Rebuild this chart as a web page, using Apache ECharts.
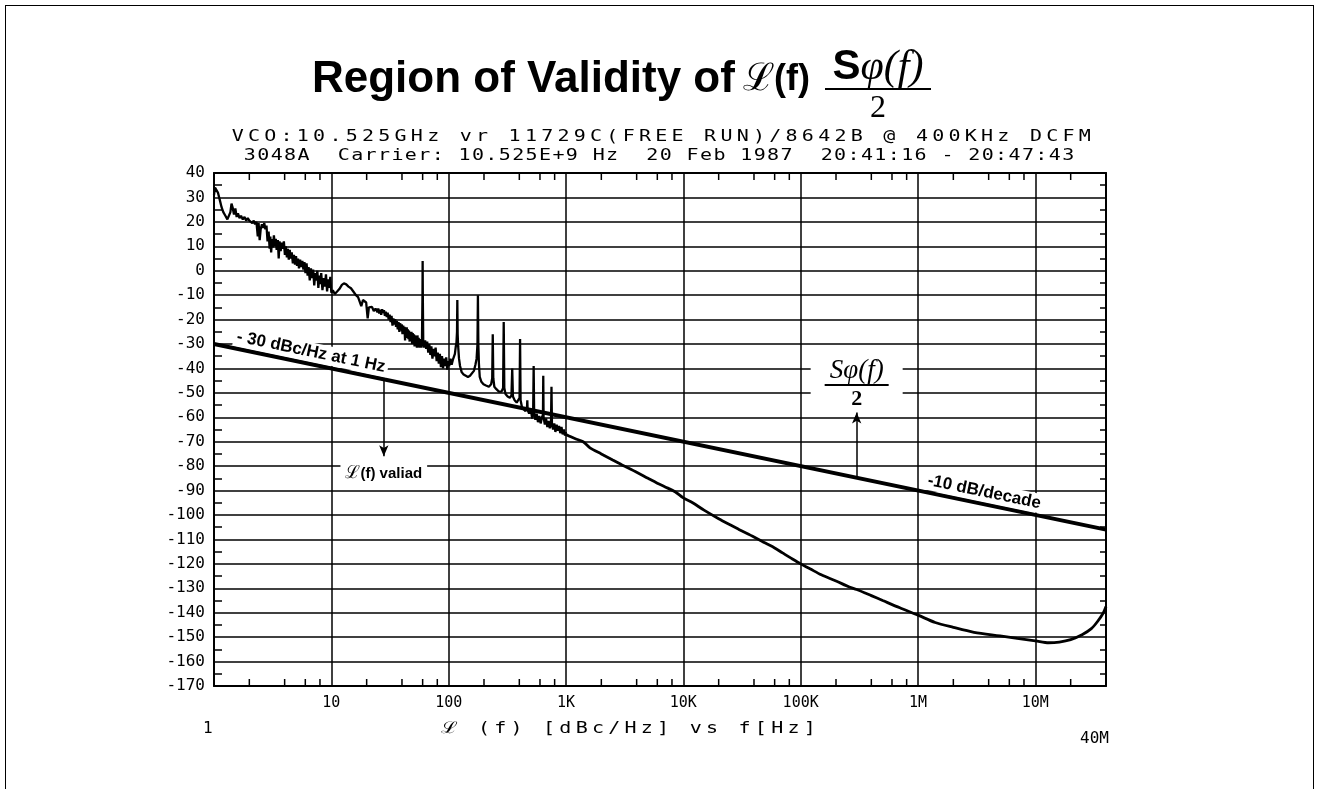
<!DOCTYPE html>
<html>
<head>
<meta charset="utf-8">
<title>Region of Validity</title>
<script src="https://cdn.jsdelivr.net/npm/echarts@6.0.0/dist/echarts.min.js"></script>
<style>
  html, body { margin: 0; padding: 0; background: #fff; }
  body { width: 1319px; height: 789px; position: relative; overflow: hidden; }
  #frame { position: absolute; left: 5px; top: 5px; width: 1307px; height: 800px; border: 1.5px solid #000; }
  #chart { position: absolute; left: 0; top: 0; width: 1319px; height: 789px; }
  .head { position: absolute; color: #000; white-space: pre; line-height: 1; }
  .bold { font-family: 'Liberation Sans', Arial, sans-serif; font-weight: bold; }
  .row { position: absolute; left: 0; width: 1326px; text-align: center; line-height: 1; }
  .plotter { display: inline-block; font-family: 'DejaVu Sans Mono', monospace; font-size: 16px; color: #000;
             white-space: pre; letter-spacing: 3.4px; transform: scaleX(1.25); transform-origin: center; }
  .tick { position: absolute; font-family: 'DejaVu Sans Mono', monospace; font-size: 16px; color: #000; line-height: 1; }
</style>
</head>
<body>
<div id="frame"></div>
<div id="chart"></div>

<div class="head bold" style="left:312px; top:55px; font-size:44px;">Region of Validity of</div>
<div class="head" style="left:743px; top:58px; font-size:38px; font-family:'DejaVu Serif', serif;">ℒ</div>
<div class="head bold" style="left:774px; top:60px; font-size:36px;">(f)</div>
<div class="head" style="left:812px; top:44px; width:132px; text-align:center; font-size:42px;"><span class="bold">S</span><span style="font-family:'Liberation Serif', serif; font-style:italic;">φ(f)</span></div>
<div class="head" style="left:825px; top:88px; width:106px; border-top:2.5px solid #000;"></div>
<div class="head" style="left:812px; top:90px; width:132px; text-align:center; font-size:32px; font-family:'Liberation Serif', serif;">2</div>

<div class="row" style="top:128px;"><span class="plotter">VCO:10.525GHz vr 11729C(FREE RUN)/8642B @ 400KHz DCFM</span></div>
<div class="row" style="top:147px; width:1320px;"><span class="plotter" style="letter-spacing:1.1px;">3048A  Carrier: 10.525E+9 Hz  20 Feb 1987  20:41:16 - 20:47:43</span></div>

<div class="tick" style="left:203px; top:720px;">1</div>
<div class="row" style="top:720px; width:1262px;"><span class="plotter">ℒ (f) [dBc/Hz] vs f[Hz]</span></div>
<div class="tick" style="left:1080px; top:730px;">40M</div>

<script>
// axis ranges
const xMin = 1
const xMax = 4e7
const yMin = -170
const yMax = 40
const yStep = 10

// decade labels on the frequency axis (10 Hz .. 10 MHz)
const xTickLabels = ['10', '100', '1K', '10K', '100K', '1M', '10M']
// small tick marks at 2, 4, 6, 8 of every decade
const xMinorTicks = [2, 4, 6, 8, 20, 40, 60, 80, 200, 400, 600, 800,
  2e3, 4e3, 6e3, 8e3, 2e4, 4e4, 6e4, 8e4, 2e5, 4e5, 6e5, 8e5,
  2e6, 4e6, 6e6, 8e6, 2e7]

// measured L(f), 1 Hz - 10 Hz  [Hz, dBc/Hz]
const noise1to10 = [
  [1.00, 31], [1.02, 34], [1.05, 33.5], [1.08, 32], [1.12, 29], [1.16, 26], [1.2, 24], [1.25, 22.5],
  [1.3, 21], [1.34, 20.5], [1.38, 24], [1.41, 27.5], [1.44, 26], [1.48, 23], [1.52, 25.5], [1.56, 22],
  [1.6, 23.5], [1.65, 21.5], [1.7, 22.5], [1.76, 21], [1.82, 22], [1.88, 20.5], [1.94, 21.5], [2.0, 20.5],
  [2.06, 21], [2.12, 19.5], [2.18, 20.5], [2.24, 19], [2.3, 20], [2.36, 14], [2.4, 19.5], [2.45, 12.5],
  [2.5, 17], [2.56, 19], [2.62, 17.5], [2.68, 19.5], [2.74, 17], [2.8, 18.5], [2.86, 12], [2.92, 16],
  [2.98, 9], [3.02, 14], [3.07, 7.5], [3.12, 13], [3.18, 9.5], [3.24, 14.5], [3.3, 10], [3.36, 13],
  [3.42, 8.5], [3.5, 12.5], [3.56, 5], [3.62, 12], [3.7, 8], [3.78, 11.5], [3.86, 9], [3.94, 12],
  [4.02, 6.5], [4.1, 10], [4.18, 5.5], [4.26, 9], [4.34, 4.5], [4.42, 8.5], [4.5, 5], [4.6, 7.5],
  [4.7, 3], [4.8, 6.5], [4.9, 2.5], [5.0, 6], [5.1, 2], [5.2, 5], [5.3, 1], [5.42, 4.5],
  [5.54, 1.5], [5.66, 4], [5.78, 0.5], [5.9, 3.5], [6.02, -1], [6.15, 3], [6.28, -2], [6.4, 1.5],
  [6.55, -4], [6.7, 1], [6.85, -3], [7.0, 0.5], [7.15, -6], [7.3, -1], [7.45, -4], [7.6, 0],
  [7.75, -7], [7.9, -2], [8.05, -5.5], [8.2, -1], [8.4, -8], [8.6, -3], [8.8, -6.5], [9.0, -1.5],
  [9.2, -8.5], [9.4, -3.5], [9.6, -7], [9.8, -2.5], [10.0, -9]
]

// 10 Hz - 100 Hz, with the 60 Hz line spur
const noise10to100 = [
  [10.3, -8], [10.7, -9.5], [11.2, -8.5], [11.7, -7.5], [12.3, -5.8], [12.8, -5.2], [13.4, -5.6], [14.0, -6.5],
  [14.7, -7.2], [15.4, -8.5], [16.2, -10], [16.9, -10.8], [17.5, -11.5], [18.0, -14.5], [18.6, -12], [19.2, -11.5],
  [19.8, -13], [20.4, -19.5], [20.9, -15], [21.5, -15.8], [22.2, -14.8], [23.0, -16.5], [23.8, -15.5], [24.7, -17],
  [25.1, -15.5], [25.6, -17.5], [26.1, -16], [26.6, -18], [27.1, -15.8], [27.6, -17.2], [28.1, -16.2], [28.6, -18.5],
  [29.1, -16.8], [29.7, -19], [30.2, -17.2], [30.8, -20], [31.4, -18], [32.0, -21], [32.6, -18.5], [33.2, -22.5],
  [33.8, -19.5], [34.4, -22], [35.0, -19.8], [35.6, -23], [36.2, -20.5], [36.8, -24], [37.4, -21], [38.0, -25],
  [38.6, -21.5], [39.2, -24.5], [39.8, -22], [40.4, -26], [41.0, -22.5], [41.5, -25.5], [42.0, -23], [42.5, -28.5],
  [43.0, -23.5], [43.4, -27], [43.9, -23.2], [44.4, -27.5], [44.9, -24], [45.4, -28], [45.9, -24.5], [46.5, -29],
  [47.0, -25], [47.6, -28.5], [48.2, -25], [48.8, -30], [49.4, -25.5], [50.0, -29.5], [50.6, -26], [51.2, -31],
  [51.8, -26.5], [52.4, -30], [53.0, -27], [53.6, -31.5], [54.2, -26.5], [54.9, -30.5], [55.5, -27.5], [56.2, -31.5],
  [56.8, -28], [57.5, -31], [58.0, -28.5], [58.6, -31.5], [59.2, -29], [59.8, -10],
  [60.0, 4], [60.2, -10], [60.7, -29], [61.8, -31.5], [63.0, -28.5], [64.3, -32], [65.6, -29], [67.0, -33.5],
  [68.4, -30], [69.8, -34.5], [71.2, -31], [72.7, -36], [74.2, -32], [75.8, -35], [77.4, -31.5], [79.0, -37],
  [80.7, -33.5], [82.4, -38], [84.1, -34], [85.9, -39.5], [87.7, -35], [89.5, -40], [91.4, -36], [93.3, -39],
  [95.3, -35.5], [97.3, -40.5], [99.3, -37]
]

// 100 Hz - 1 kHz, with the power line harmonics
const noise100to1k = [
  [101, -39], [103.5, -36], [106, -38.5], [108.5, -36.5], [111, -37], [113, -34], [115, -31], [116.5, -29.5],
  [117.8, -25], [118.5, -12], [119.3, -26], [120.5, -31], [122.5, -36], [125, -39], [129, -41.5], [134, -42.5],
  [140, -43], [146, -43.5], [152, -43], [158, -42.5], [164, -41], [169, -38.5], [173, -36], [176, -30],
  [177.5, -10], [179, -30], [181, -38], [184, -43.5], [190, -45.5], [198, -46.5], [208, -47], [220, -47.5],
  [230, -46.5], [235, -44], [237.5, -26], [240, -44], [245, -47.5], [255, -48.5], [268, -49.5], [282, -49.5],
  [291, -48], [294.5, -21], [298, -48], [305, -50.5], [318, -51.5], [332, -52], [343, -51], [348, -40],
  [353, -51.5], [365, -53], [380, -54], [394, -54.5], [402, -52], [406, -28], [410, -53], [422, -56],
  [437, -56.5], [452, -57.5], [465, -56], [468, -53], [471, -57], [485, -58.5], [500, -56.5], [515, -60.5],
  [525, -57], [530, -39], [535, -58], [548, -61], [562, -58.5], [577, -62], [592, -59.5], [608, -62.5],
  [624, -60], [636, -59], [640, -43], [644, -60], [660, -63], [676, -60.5], [693, -64], [710, -61.5],
  [728, -64.5], [745, -62], [752, -47.5], [759, -63], [776, -65], [794, -62.5], [812, -66], [832, -63],
  [852, -65.5], [872, -63.5], [893, -66.5], [915, -64], [937, -67], [960, -65], [980, -67.5], [1000, -66]
]

// 1 kHz - 40 MHz, smooth far-out noise
const noise1kTo40M = [
  [1000, -67], [1100, -68], [1230, -69], [1400, -70], [1600, -72.5], [2000, -75], [2500, -77.5],
  [3000, -79.5], [4000, -82.5], [5000, -85], [6000, -87], [7000, -88.5], [8500, -90.5], [1e4, -93],
  [1.2e4, -95], [1.5e4, -98], [2e4, -101.5], [2.5e4, -104], [3e4, -106], [4e4, -109], [5e4, -111.5],
  [6e4, -113.5], [7e4, -115.5], [8.5e4, -118], [1e5, -120], [1.2e5, -122], [1.5e5, -124.5], [2e5, -127],
  [2.6e5, -129.5], [3e5, -130.5], [4e5, -133], [5e5, -135], [7e5, -138], [1e6, -141], [1.4e6, -144],
  [2e6, -146], [3e6, -148], [5e6, -149.5], [7e6, -150.5], [1e7, -151.5], [1.3e7, -152.3], [1.6e7, -152],
  [2e7, -151], [2.5e7, -149], [3e7, -146.5], [3.4e7, -143.5], [3.8e7, -140], [4e7, -137.5]
]

// -30 dBc/Hz at 1 Hz, -10 dB/decade boundary
const boundaryFreq = [1, 4e7]
const boundaryLevel = [-30, -106]

const black = '#000'
const plotFont = 'DejaVu Sans Mono'
const noteFont = 'Liberation Sans'

function boundaryAt(f) {
  const t = Math.log10(f / boundaryFreq[0]) / Math.log10(boundaryFreq[1] / boundaryFreq[0])
  return boundaryLevel[0] + t * (boundaryLevel[1] - boundaryLevel[0])
}

function decadeLabel(v) {
  const e = Math.log10(v)
  const r = Math.round(e)
  if (Math.abs(e - r) > 1e-6 || r < 1 || r > xTickLabels.length) return ''
  return xTickLabels[r - 1]
}

const chart = echarts.init(document.getElementById('chart'))

const option = {
  animation: false,
  grid: { left: 214, right: 213, top: 173, bottom: 103, containLabel: false, outerBoundsMode: 'none' },
  xAxis: [
    {
      type: 'log', logBase: 10, min: xMin, max: xMax,
      axisLine: { show: true, onZero: false, lineStyle: { color: black, width: 2 } },
      axisTick: { show: false },
      axisLabel: { formatter: decadeLabel, color: black, fontFamily: plotFont, fontSize: 15, margin: 10 },
      splitLine: { show: true, lineStyle: { color: black, width: 1.5 } }
    },
    {
      type: 'log', logBase: 10, min: xMin, max: xMax, position: 'top',
      axisLine: { show: true, onZero: false, lineStyle: { color: black, width: 2 } },
      axisTick: { show: false },
      axisLabel: { show: false },
      splitLine: { show: false }
    }
  ],
  yAxis: [
    {
      type: 'value', min: yMin, max: yMax, interval: yStep,
      axisLine: { show: true, onZero: false, lineStyle: { color: black, width: 2 } },
      axisTick: { show: false, inside: true },
      minorTick: { show: true, splitNumber: 2, length: 8, lineStyle: { color: black, width: 1.5 } },
      axisLabel: { color: black, fontFamily: plotFont, fontSize: 16, margin: 9 },
      splitLine: { show: true, lineStyle: { color: black, width: 1.5 } }
    },
    {
      type: 'value', min: yMin, max: yMax, interval: yStep, position: 'right',
      axisLine: { show: true, onZero: false, lineStyle: { color: black, width: 2 } },
      axisTick: { show: false, inside: true },
      minorTick: { show: true, splitNumber: 2, length: 6, lineStyle: { color: black, width: 1.5 } },
      axisLabel: { show: false },
      splitLine: { show: false }
    }
  ],
  series: [
    {
      name: 'close-in',
      type: 'line',
      showSymbol: false,
      symbol: 'none',
      lineStyle: { color: black, width: 2.3 },
      data: noise1to10.concat(noise10to100, noise100to1k),
      z: 4
    },
    {
      name: 'far-out',
      type: 'line',
      showSymbol: false,
      symbol: 'none',
      smooth: 0.3,
      lineStyle: { color: black, width: 2.8 },
      data: noise1kTo40M,
      z: 4
    },
    {
      name: 'boundary',
      type: 'line',
      showSymbol: false,
      symbol: 'none',
      lineStyle: { color: black, width: 4 },
      data: boundaryFreq.map((f, i) => [f, boundaryLevel[i]]),
      z: 3,
      markLine: {
        silent: true,
        animation: false,
        symbol: ['none', 'arrow'],
        symbolSize: [7, 11],
        label: { show: false },
        lineStyle: { color: black, width: 1.5, type: 'solid' },
        data: [
          [{ coord: [28, boundaryAt(28)] }, { coord: [28, -76] }],
          [{ coord: [3e5, boundaryAt(3e5)] }, { coord: [3e5, -58] }]
        ]
      }
    },
    {
      name: 'minor ticks',
      type: 'custom',
      silent: true,
      clip: false,
      data: xMinorTicks.map(f => [f, yMin]),
      renderItem: (params, api) => {
        const x = api.coord([api.value(0), yMin])[0]
        const yb = api.coord([xMin, yMin])[1]
        const yt = api.coord([xMin, yMax])[1]
        return {
          type: 'group',
          children: [
            { type: 'line', shape: { x1: x, y1: yb, x2: x, y2: yb - 7 }, style: { stroke: black, lineWidth: 1.5 } },
            { type: 'line', shape: { x1: x, y1: yt, x2: x, y2: yt + 7 }, style: { stroke: black, lineWidth: 1.5 } }
          ]
        }
      }
    }
  ]
}

chart.setOption(option)

// annotations placed through the chart's own coordinate system
const p0 = chart.convertToPixel({ gridIndex: 0 }, [boundaryFreq[0], boundaryLevel[0]])
const p1 = chart.convertToPixel({ gridIndex: 0 }, [boundaryFreq[1], boundaryLevel[1]])
const ang = Math.atan2(p1[1] - p0[1], p1[0] - p0[0])

function onBoundary(f, lift) {
  const p = chart.convertToPixel({ gridIndex: 0 }, [f, boundaryAt(f)])
  return [p[0] + lift * Math.sin(ang), p[1] - lift * Math.cos(ang)]
}

const n1 = onBoundary(6.4, 12)
const n2 = onBoundary(3.5e6, 12)
const validAt = chart.convertToPixel({ gridIndex: 0 }, [28, -83])
const fracAt = chart.convertToPixel({ gridIndex: 0 }, [3e5, -46])

chart.setOption({
  graphic: [
    {
      type: 'text', x: n1[0], y: n1[1], rotation: -ang, z: 10,
      style: {
        text: '- 30 dBc/Hz at 1 Hz', fill: black, font: 'bold 17px ' + noteFont,
        align: 'center', verticalAlign: 'middle', backgroundColor: '#fff', padding: [1, 3]
      }
    },
    {
      type: 'text', x: n2[0], y: n2[1], rotation: -ang, z: 10,
      style: {
        text: '-10 dB/decade', fill: black, font: 'bold 17px ' + noteFont,
        align: 'center', verticalAlign: 'middle', backgroundColor: '#fff', padding: [1, 3]
      }
    },
    {
      type: 'text', x: validAt[0], y: validAt[1], z: 10,
      style: {
        text: '{s|ℒ}{b|(f) valiad}', align: 'center', verticalAlign: 'middle',
        backgroundColor: '#fff', padding: [2, 5],
        rich: {
          s: { fontFamily: 'DejaVu Serif', fontSize: 18, fill: black },
          b: { fontFamily: noteFont, fontWeight: 'bold', fontSize: 15, fill: black }
        }
      }
    },
    {
      type: 'group', x: fracAt[0], y: fracAt[1], z: 10,
      children: [
        { type: 'rect', shape: { x: -46, y: -28, width: 92, height: 56 }, style: { fill: '#fff' } },
        {
          type: 'text', x: 0, y: -12,
          style: { text: 'Sφ(f)', font: 'italic 27px Liberation Serif', fill: black, align: 'center', verticalAlign: 'middle' }
        },
        { type: 'line', shape: { x1: -32, y1: 2, x2: 32, y2: 2 }, style: { stroke: black, lineWidth: 2 } },
        {
          type: 'text', x: 0, y: 16,
          style: { text: '2', font: 'bold 22px Liberation Serif', fill: black, align: 'center', verticalAlign: 'middle' }
        }
      ]
    }
  ]
})
</script>
</body>
</html>
